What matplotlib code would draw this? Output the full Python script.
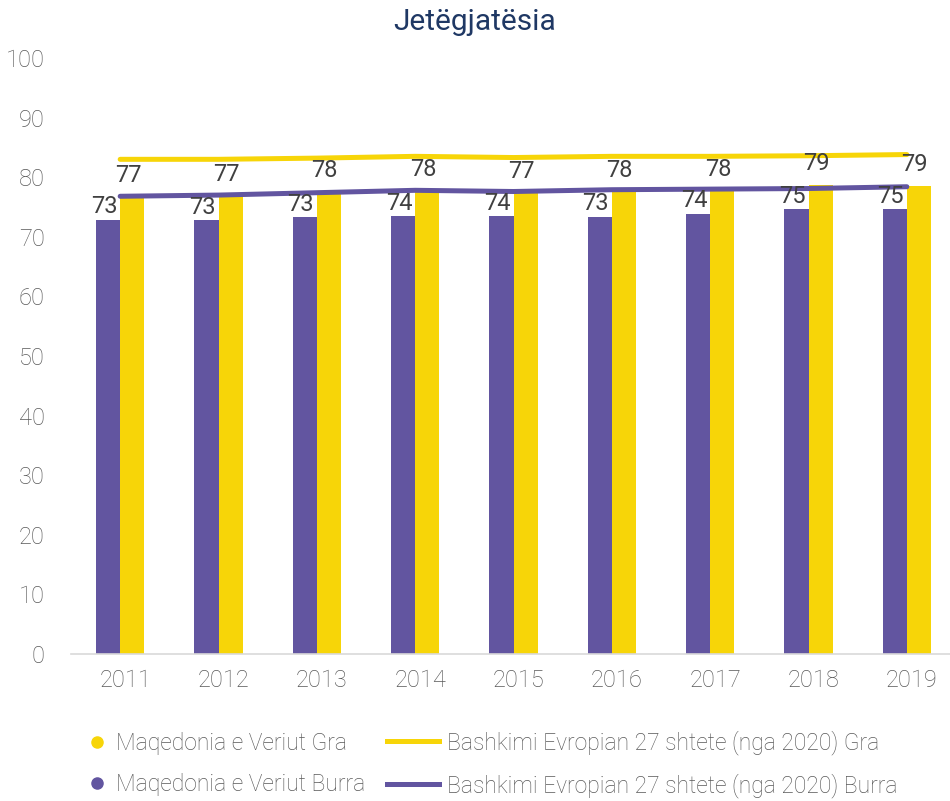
import matplotlib
matplotlib.use("Agg")
import numpy as np
import matplotlib.pyplot as plt
import matplotlib.transforms as mtransforms
from matplotlib.lines import Line2D

plt.rcParams["font.family"] = ["Roboto", "DejaVu Sans"]

# ---- data ----
years = ["2011", "2012", "2013", "2014", "2015", "2016", "2017", "2018", "2019"]
mk_burra = [72.9, 72.8, 73.3, 73.5, 73.5, 73.4, 73.9, 74.6, 74.6]
mk_gra = [76.8, 76.9, 77.5, 77.7, 77.4, 77.6, 77.7, 78.7, 78.6]
eu_gra = [83.0, 83.0, 83.2, 83.5, 83.3, 83.5, 83.5, 83.6, 83.8]
eu_burra = [76.8, 77.0, 77.4, 77.8, 77.6, 77.9, 78.0, 78.1, 78.4]

purple = "#6255A0"
yellow = "#F7D508"
grey_txt = "#595959"
label_txt = "#404040"

W, H = 950, 801
fig = plt.figure(figsize=(W / 100, H / 100), dpi=100)
ax = fig.add_axes([71 / W, (H - 654) / H, 885 / W, 596 / H])

x = np.arange(len(years))
bw = 0.245

bars_m = ax.bar(x - bw / 2, mk_burra, width=bw, color=purple, zorder=2)
bars_f = ax.bar(x + bw / 2, mk_gra, width=bw, color=yellow, zorder=2)

ax.plot(x, eu_gra, color=yellow, lw=3.6, solid_capstyle="round", zorder=3)
ax.plot(x, eu_burra, color=purple, lw=3.6, solid_capstyle="round", zorder=3)

# data labels
for b, v in zip(bars_m, mk_burra):
    ax.annotate(f"{round(v):d}", (b.get_x() + b.get_width() / 2, v),
                xytext=(-3, 1), textcoords="offset points",
                ha="center", va="bottom", fontsize=17, color=label_txt, zorder=4)
for b, v in zip(bars_f, mk_gra):
    ax.annotate(f"{round(v):d}", (b.get_x() + b.get_width() / 2, v),
                xytext=(-3, 7), textcoords="offset points",
                ha="center", va="bottom", fontsize=17, color=label_txt, zorder=4)

ax.set_xlim(-0.5, len(years) - 0.5)
ax.set_ylim(0, 100)
ax.set_yticks(range(0, 101, 10))
ax.set_xticks(x)
ax.set_xticklabels(years)

for s in ["top", "right", "left"]:
    ax.spines[s].set_visible(False)
ax.spines["bottom"].set_color("#D9D9D9")
ax.spines["bottom"].set_linewidth(1.2)

ax.tick_params(axis="y", length=0, pad=19, labelsize=17, labelcolor=grey_txt)
ax.tick_params(axis="x", length=0, pad=11, labelsize=17, labelcolor=grey_txt)
shift = mtransforms.ScaledTranslation(5 / 100, 0, fig.dpi_scale_trans)
for t in ax.get_xticklabels():
    t.set_transform(t.get_transform() + shift)
for t in ax.get_yticklabels() + ax.get_xticklabels():
    t.set_fontweight("light")

fig.text(0.5, 1 - 22 / H, "Jetëgjatësia", ha="center", va="center",
         fontsize=21.5, color="#1F3864")

# legend: dots column and lines column
dot_handles = [
    Line2D([], [], ls="none", marker="o", ms=8, color=yellow),
    Line2D([], [], ls="none", marker="o", ms=8, color=purple),
]
dot_labels = ["Maqedonia e Veriut Gra", "Maqedonia e Veriut Burra"]
line_handles = [
    Line2D([], [], color=yellow, lw=3.6),
    Line2D([], [], color=purple, lw=3.6),
]
line_labels = ["Bashkimi Evropian 27 shtete (nga 2020) Gra",
               "Bashkimi Evropian 27 shtete (nga 2020) Burra"]

leg1 = fig.legend(dot_handles, dot_labels, loc="center left",
                  bbox_to_anchor=(69 / W, 1 - 764 / H), frameon=False,
                  handlelength=0.6, handletextpad=0.55,
                  labelspacing=0.8, labelcolor=grey_txt,
                  prop={"weight": "light", "size": 16.5})
leg2 = fig.legend(line_handles, line_labels, loc="center left",
                  bbox_to_anchor=(366 / W, 1 - 764 / H), frameon=False,
                  handlelength=2.3, handletextpad=0.35,
                  labelspacing=0.8, labelcolor=grey_txt,
                  prop={"weight": "light", "size": 16.5})

fig.savefig("out.png", dpi=100)
